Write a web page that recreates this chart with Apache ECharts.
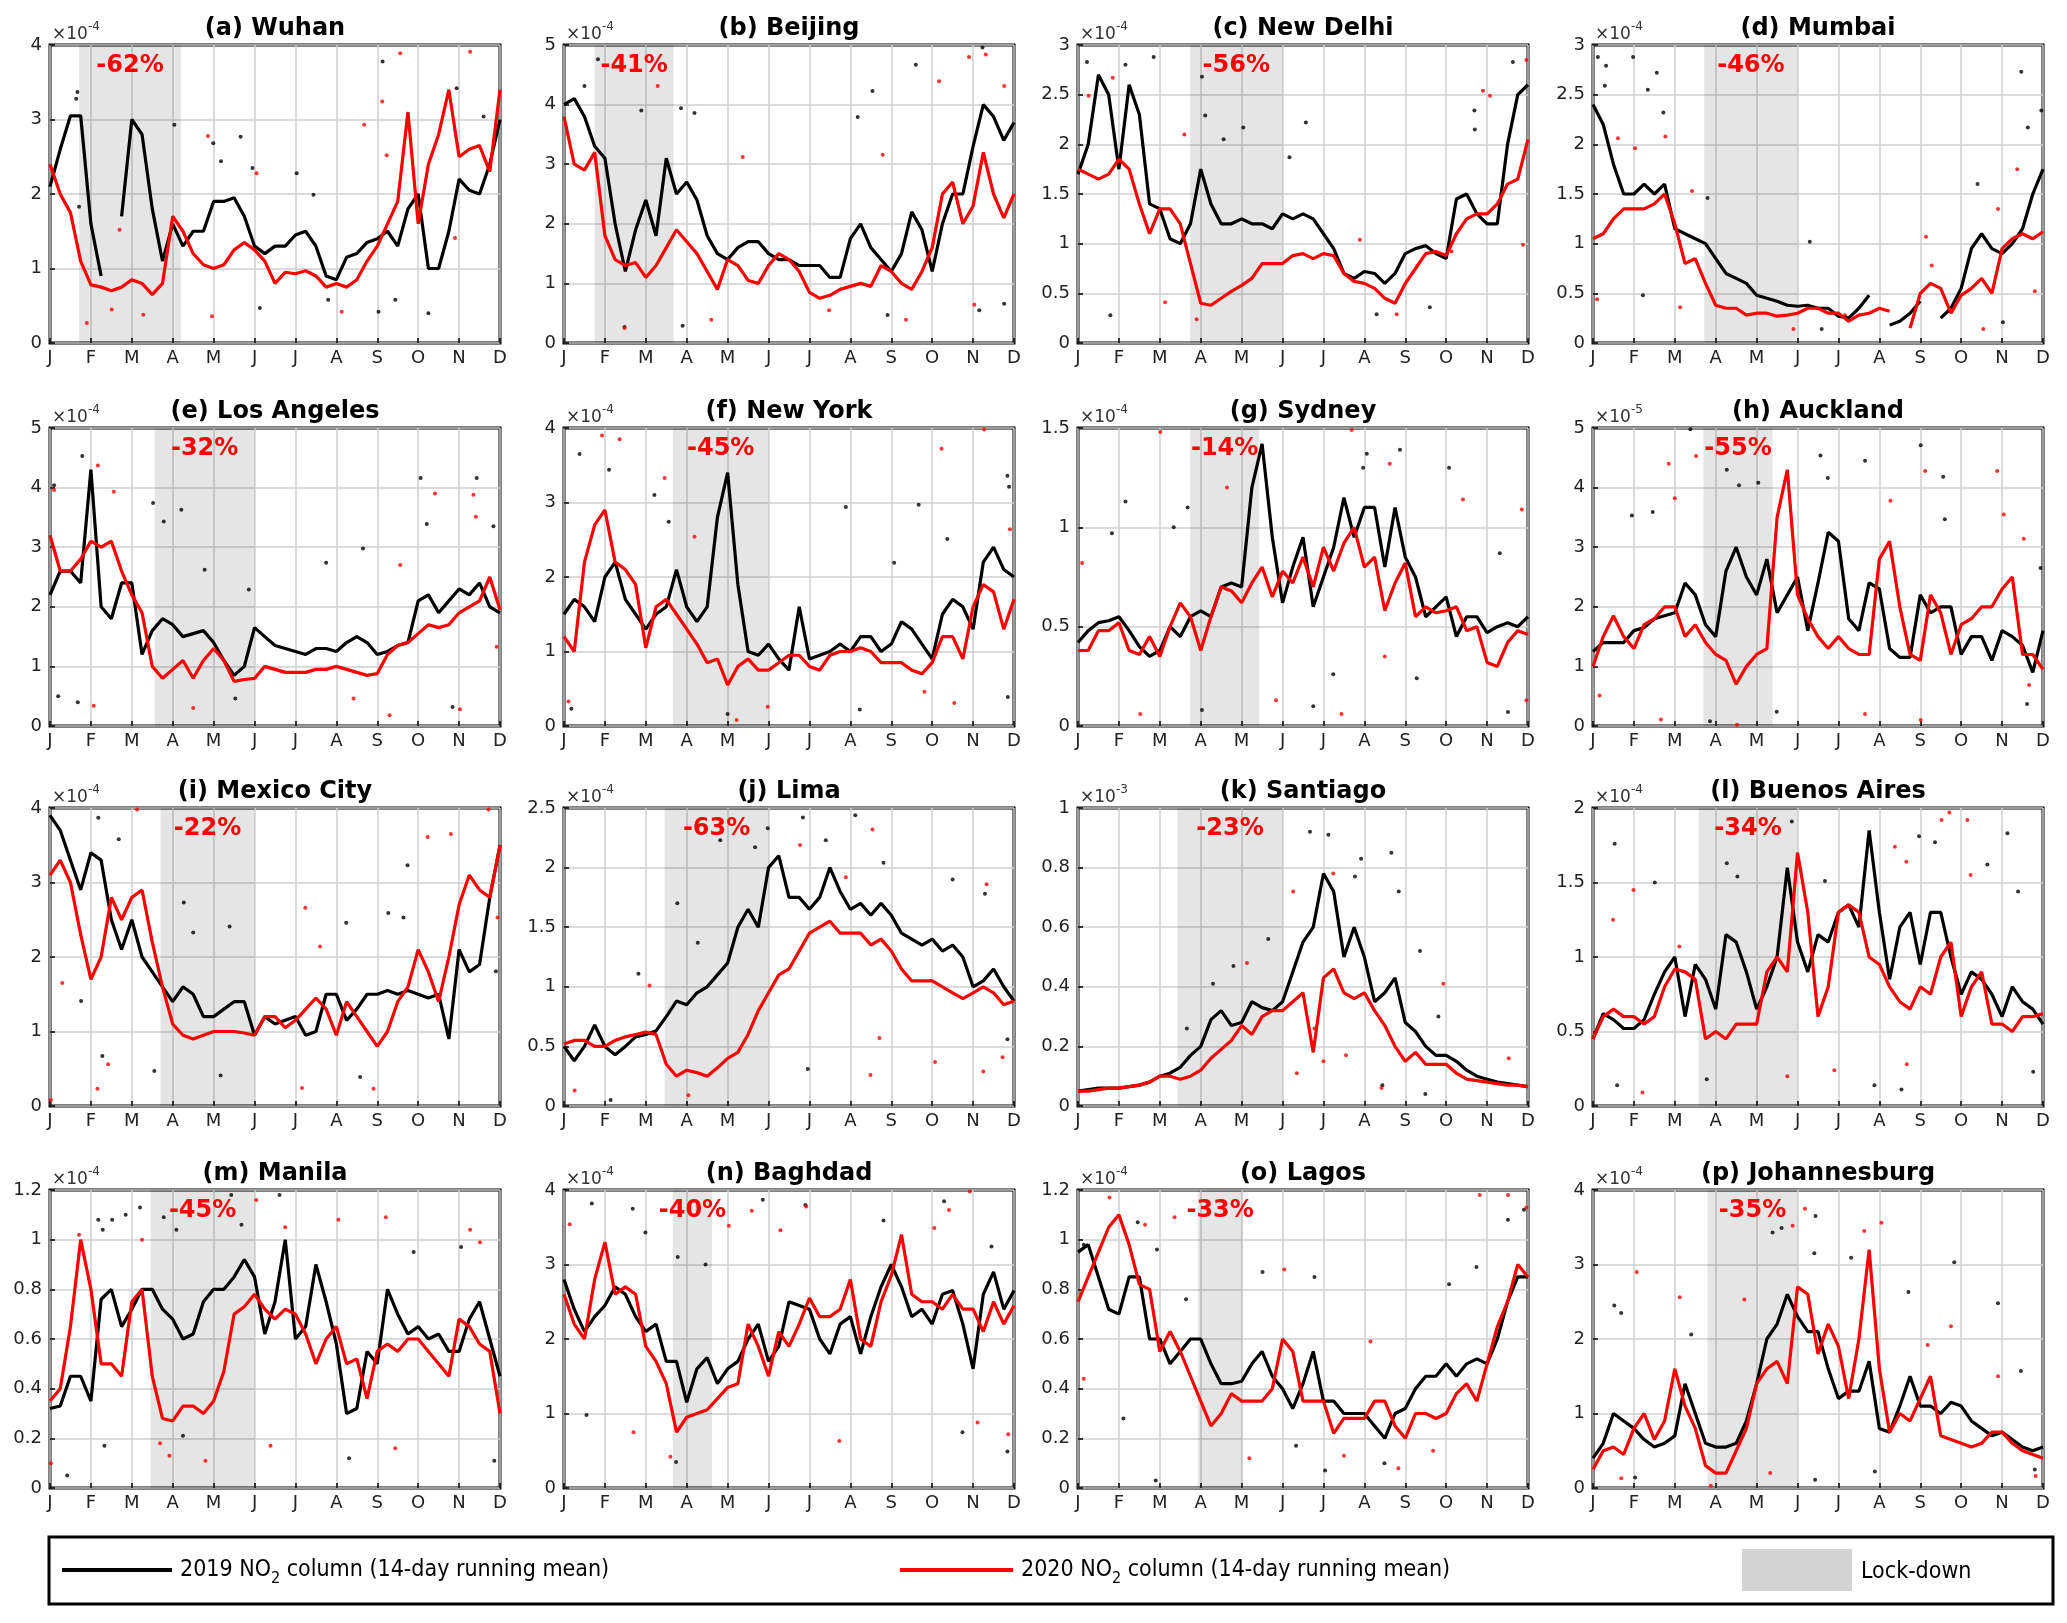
<!DOCTYPE html>
<html lang="en">
<head>
<meta charset="utf-8">
<title>NO2 column 2019 vs 2020</title>
<script src="https://cdn.jsdelivr.net/npm/echarts@6/dist/echarts.min.js"></script>
<style>
  html, body { margin: 0; padding: 0; background: #fff; }
  #main { width: 2067px; height: 1623px; }
</style>
</head>
<body>
<div id="main"></div>
<script>
// x runs in months: 0 = 1 Jan ... 11 = 1 Dec, running means sampled every quarter month
const STEP = 0.25;
const monthLetters = ['J','F','M','A','M','J','J','A','S','O','N','D'];

const titles = ['(a) Wuhan','(b) Beijing','(c) New Delhi','(d) Mumbai','(e) Los Angeles','(f) New York','(g) Sydney','(h) Auckland',
  '(i) Mexico City','(j) Lima','(k) Santiago','(l) Buenos Aires','(m) Manila','(n) Baghdad','(o) Lagos','(p) Johannesburg'];
const yMax  = [4, 5, 3, 3, 5, 4, 1.5, 5, 4, 2.5, 1, 2, 1.2, 4, 1.2, 4];
const yStep = [1, 1, 0.5, 0.5, 1, 1, 0.5, 1, 1, 0.5, 0.2, 0.5, 0.2, 1, 0.2, 1];
const expo  = ['-4','-4','-4','-4','-4','-4','-4','-5','-4','-4','-3','-4','-4','-4','-4','-4'];
const lockStart = [0.71, 0.75, 2.74, 2.72, 2.56, 2.66, 2.74, 2.7, 2.7, 2.46, 2.43, 2.58, 2.46, 2.66, 2.93, 2.8];
const lockEnd   = [3.2, 2.68, 5.0, 5.0, 5.0, 5.0, 4.43, 4.39, 5.0, 5.0, 5.0, 5.0, 5.0, 3.62, 4.02, 5.0];
const pctLabels = ['-62%','-41%','-56%','-46%','-32%','-45%','-14%','-55%','-22%','-63%','-23%','-34%','-45%','-40%','-33%','-35%'];

// 14-day running means, 2019 (black) and 2020 (red); null = gap
const wuhan19 = [2.1,2.6,3.05,3.05,1.6,0.9,null,1.7,3.0,2.8,1.8,1.1,1.6,1.3,1.5,1.5,1.9,1.9,1.95,1.7,1.3,1.2,1.3,1.3,1.45,1.5,1.3,0.9,0.85,1.15,1.2,1.35,1.4,1.5,1.3,1.8,2.0,1.0,1.0,1.5,2.2,2.05,2.0,2.4,3.0];
const wuhan20 = [2.4,2.0,1.75,1.1,0.78,0.75,0.7,0.75,0.85,0.8,0.65,0.8,1.7,1.5,1.2,1.05,1.0,1.05,1.25,1.35,1.25,1.1,0.8,0.95,0.93,0.97,0.9,0.75,0.8,0.75,0.85,1.1,1.3,1.6,1.9,3.1,1.6,2.4,2.8,3.4,2.5,2.6,2.65,2.3,3.4];
const beijing19 = [4.0,4.1,3.8,3.3,3.1,2.0,1.2,1.9,2.4,1.8,3.1,2.5,2.7,2.4,1.8,1.5,1.4,1.6,1.7,1.7,1.5,1.4,1.4,1.3,1.3,1.3,1.1,1.1,1.75,2.0,1.6,1.4,1.2,1.5,2.2,1.9,1.2,2.0,2.5,2.5,3.3,4.0,3.8,3.4,3.7];
const beijing20 = [3.8,3.0,2.9,3.2,1.8,1.4,1.3,1.35,1.1,1.3,1.6,1.9,1.7,1.5,1.2,0.9,1.4,1.3,1.05,1.0,1.3,1.5,1.4,1.2,0.85,0.75,0.8,0.9,0.95,1.0,0.95,1.3,1.2,1.0,0.9,1.2,1.6,2.5,2.7,2.0,2.3,3.2,2.5,2.1,2.5];
const delhi19 = [1.7,2.0,2.7,2.5,1.75,2.6,2.3,1.4,1.35,1.05,1.0,1.2,1.75,1.4,1.2,1.2,1.25,1.2,1.2,1.15,1.3,1.25,1.3,1.25,1.1,0.95,0.7,0.65,0.72,0.7,0.6,0.7,0.9,0.95,0.98,0.9,0.85,1.45,1.5,1.3,1.2,1.2,2.0,2.5,2.6];
const delhi20 = [1.75,1.7,1.65,1.7,1.85,1.75,1.4,1.1,1.35,1.35,1.2,0.8,0.4,0.38,0.45,0.52,0.58,0.65,0.8,0.8,0.8,0.88,0.9,0.85,0.9,0.88,0.7,0.62,0.6,0.55,0.45,0.4,0.6,0.75,0.9,0.92,0.88,1.1,1.25,1.3,1.3,1.4,1.6,1.65,2.05];
const mumbai19 = [2.4,2.2,1.8,1.5,1.5,1.6,1.5,1.6,1.15,1.1,1.05,1.0,0.85,0.7,0.65,0.6,0.48,0.45,0.42,0.38,0.37,0.38,0.35,0.35,0.27,0.25,0.35,0.48,null,0.18,0.22,0.3,0.42,null,0.25,0.35,0.55,0.95,1.1,0.95,0.9,1.0,1.15,1.5,1.75];
const mumbai20 = [1.05,1.1,1.25,1.35,1.35,1.35,1.4,1.5,1.2,0.8,0.85,0.6,0.38,0.35,0.35,0.28,0.3,0.3,0.27,0.28,0.3,0.35,0.35,0.3,0.3,0.22,0.28,0.3,0.35,0.32,null,0.15,0.5,0.6,0.55,0.3,0.48,0.55,0.65,0.5,0.95,1.05,1.1,1.05,1.12];
const la19 = [2.2,2.6,2.6,2.4,4.3,2.0,1.8,2.4,2.4,1.2,1.6,1.8,1.7,1.5,1.55,1.6,1.4,1.1,0.85,1.0,1.65,1.5,1.35,1.3,1.25,1.2,1.3,1.3,1.25,1.4,1.5,1.4,1.2,1.25,1.35,1.4,2.1,2.2,1.9,2.1,2.3,2.2,2.4,2.0,1.9];
const la20 = [3.2,2.6,2.6,2.8,3.1,3.0,3.1,2.6,2.2,1.9,1.0,0.8,0.95,1.1,0.8,1.1,1.3,1.1,0.75,0.78,0.8,1.0,0.95,0.9,0.9,0.9,0.95,0.95,1.0,0.95,0.9,0.85,0.88,1.2,1.35,1.4,1.55,1.7,1.65,1.7,1.9,2.0,2.1,2.5,1.95];
const ny19 = [1.5,1.7,1.6,1.4,2.0,2.2,1.7,1.5,1.3,1.5,1.6,2.1,1.6,1.4,1.6,2.8,3.4,1.9,1.0,0.95,1.1,0.9,0.75,1.6,0.9,0.95,1.0,1.1,1.0,1.2,1.2,1.0,1.1,1.4,1.3,1.1,0.9,1.5,1.7,1.6,1.3,2.2,2.4,2.1,2.0];
const ny20 = [1.2,1.0,2.2,2.7,2.9,2.2,2.1,1.9,1.05,1.6,1.7,1.5,1.3,1.1,0.85,0.9,0.55,0.8,0.9,0.75,0.75,0.85,0.95,0.95,0.8,0.75,0.95,1.0,1.0,1.05,1.0,0.85,0.85,0.85,0.75,0.7,0.85,1.2,1.2,0.9,1.6,1.9,1.8,1.3,1.7];
const sydney19 = [0.42,0.48,0.52,0.53,0.55,0.48,0.40,0.35,0.38,0.5,0.45,0.55,0.58,0.55,0.7,0.72,0.7,1.2,1.42,0.95,0.62,0.8,0.95,0.6,0.75,0.9,1.15,0.95,1.1,1.1,0.8,1.1,0.85,0.75,0.55,0.6,0.65,0.45,0.55,0.55,0.47,0.5,0.52,0.5,0.55];
const sydney20 = [0.38,0.38,0.48,0.48,0.52,0.38,0.36,0.45,0.35,0.5,0.62,0.55,0.38,0.55,0.7,0.68,0.62,0.72,0.8,0.65,0.78,0.72,0.85,0.7,0.9,0.78,0.92,1.0,0.8,0.85,0.58,0.72,0.82,0.55,0.6,0.57,0.58,0.6,0.48,0.5,0.32,0.3,0.42,0.48,0.46];
const auckland19 = [1.25,1.4,1.4,1.4,1.6,1.65,1.8,1.85,1.9,2.4,2.2,1.7,1.5,2.6,3.0,2.5,2.2,2.8,1.9,2.2,2.5,1.6,2.4,3.25,3.1,1.8,1.6,2.4,2.3,1.3,1.15,1.15,2.2,1.9,2.0,2.0,1.2,1.5,1.5,1.1,1.6,1.5,1.35,0.9,1.6];
const auckland20 = [1.0,1.5,1.85,1.5,1.3,1.7,1.8,2.0,2.0,1.5,1.7,1.4,1.2,1.1,0.7,1.0,1.2,1.3,3.5,4.3,2.2,1.8,1.5,1.3,1.5,1.3,1.2,1.2,2.8,3.1,2.0,1.2,1.1,2.2,1.9,1.2,1.7,1.8,2.0,2.0,2.3,2.5,1.2,1.2,0.95];
const mexico19 = [3.9,3.7,3.3,2.9,3.4,3.3,2.5,2.1,2.5,2.0,1.8,1.6,1.4,1.6,1.5,1.2,1.2,1.3,1.4,1.4,0.95,1.2,1.1,1.15,1.2,0.95,1.0,1.5,1.5,1.15,1.3,1.5,1.5,1.55,1.5,1.55,1.5,1.45,1.5,0.9,2.1,1.8,1.9,2.8,3.5];
const mexico20 = [3.1,3.3,3.0,2.3,1.7,2.0,2.8,2.5,2.8,2.9,2.2,1.6,1.1,0.95,0.9,0.95,1.0,1.0,1.0,0.98,0.95,1.2,1.2,1.05,1.15,1.3,1.45,1.3,0.95,1.4,1.2,1.0,0.8,1.0,1.4,1.6,2.1,1.8,1.4,2.0,2.7,3.1,2.9,2.8,3.5];
const lima19 = [0.5,0.38,0.5,0.68,0.5,0.43,0.5,0.58,0.6,0.63,0.75,0.88,0.85,0.95,1.0,1.1,1.2,1.5,1.65,1.5,2.0,2.1,1.75,1.75,1.65,1.75,2.0,1.8,1.65,1.7,1.6,1.7,1.6,1.45,1.4,1.35,1.4,1.3,1.35,1.25,1.0,1.05,1.15,1.0,0.88];
const lima20 = [0.52,0.55,0.55,0.5,0.5,0.55,0.58,0.6,0.62,0.6,0.35,0.25,0.3,0.28,0.25,0.32,0.4,0.45,0.6,0.8,0.95,1.1,1.15,1.3,1.45,1.5,1.55,1.45,1.45,1.45,1.35,1.4,1.3,1.15,1.05,1.05,1.05,1.0,0.95,0.9,0.95,1.0,0.95,0.85,0.88];
const santiago19 = [0.05,0.055,0.06,0.06,0.06,0.065,0.07,0.08,0.1,0.11,0.13,0.17,0.2,0.29,0.32,0.27,0.28,0.35,0.33,0.32,0.35,0.45,0.55,0.6,0.78,0.72,0.5,0.6,0.5,0.35,0.38,0.43,0.28,0.25,0.2,0.17,0.17,0.15,0.12,0.1,0.09,0.08,0.075,0.07,0.065];
const santiago20 = [0.05,0.05,0.055,0.06,0.06,0.065,0.07,0.08,0.1,0.1,0.09,0.1,0.12,0.16,0.19,0.22,0.27,0.24,0.3,0.32,0.32,0.35,0.38,0.18,0.43,0.46,0.38,0.36,0.38,0.32,0.27,0.2,0.15,0.18,0.14,0.14,0.14,0.11,0.09,0.085,0.08,0.075,0.07,0.07,0.065];
const buenos19 = [0.45,0.62,0.58,0.52,0.52,0.58,0.75,0.9,1.0,0.6,0.95,0.85,0.65,1.15,1.1,0.9,0.65,0.8,1.0,1.6,1.1,0.9,1.15,1.1,1.3,1.35,1.2,1.85,1.3,0.85,1.2,1.3,0.95,1.3,1.3,1.0,0.75,0.9,0.85,0.75,0.6,0.8,0.7,0.65,0.55];
const buenos20 = [0.45,0.6,0.65,0.6,0.6,0.55,0.6,0.8,0.92,0.9,0.85,0.45,0.5,0.45,0.55,0.55,0.55,0.9,1.0,0.9,1.7,1.3,0.6,0.8,1.3,1.35,1.3,1.0,0.95,0.8,0.7,0.65,0.8,0.75,1.0,1.1,0.6,0.8,0.9,0.55,0.55,0.5,0.6,0.6,0.62];
const manila19 = [0.32,0.33,0.45,0.45,0.35,0.76,0.8,0.65,0.72,0.8,0.8,0.72,0.68,0.6,0.62,0.75,0.8,0.8,0.85,0.92,0.85,0.62,0.75,1.0,0.6,0.65,0.9,0.75,0.58,0.3,0.32,0.55,0.5,0.8,0.7,0.62,0.65,0.6,0.62,0.55,0.55,0.68,0.75,0.6,0.45];
const manila20 = [0.35,0.4,0.65,1.0,0.8,0.5,0.5,0.45,0.75,0.8,0.45,0.28,0.27,0.33,0.33,0.3,0.35,0.47,0.7,0.73,0.78,0.72,0.68,0.72,0.7,0.62,0.5,0.6,0.65,0.5,0.52,0.36,0.55,0.58,0.55,0.6,0.6,0.55,0.5,0.45,0.68,0.65,0.58,0.55,0.3];
const baghdad19 = [2.8,2.4,2.1,2.3,2.45,2.7,2.6,2.3,2.1,2.2,1.7,1.7,1.15,1.6,1.75,1.4,1.6,1.7,2.0,2.2,1.7,1.9,2.5,2.45,2.4,2.0,1.8,2.2,2.3,1.8,2.3,2.7,3.0,2.7,2.3,2.4,2.2,2.6,2.65,2.2,1.6,2.6,2.9,2.4,2.65];
const baghdad20 = [2.6,2.2,2.0,2.8,3.3,2.6,2.7,2.6,1.9,1.7,1.4,0.75,0.95,1.0,1.05,1.2,1.35,1.4,2.2,1.9,1.5,2.1,1.9,2.2,2.55,2.3,2.3,2.4,2.8,2.0,1.9,2.5,2.85,3.4,2.6,2.5,2.5,2.4,2.6,2.4,2.4,2.1,2.5,2.2,2.45];
const lagos19 = [0.95,0.98,0.85,0.72,0.7,0.85,0.85,0.6,0.6,0.5,0.55,0.6,0.6,0.5,0.42,0.42,0.43,0.5,0.55,0.45,0.4,0.32,0.42,0.55,0.35,0.35,0.3,0.3,0.3,0.25,0.2,0.3,0.32,0.4,0.45,0.45,0.5,0.45,0.5,0.52,0.5,0.6,0.75,0.85,0.85];
const lagos20 = [0.75,0.85,0.95,1.05,1.1,0.98,0.82,0.8,0.55,0.63,0.55,0.45,0.35,0.25,0.3,0.38,0.35,0.35,0.35,0.4,0.6,0.55,0.35,0.35,0.35,0.22,0.28,0.28,0.28,0.35,0.35,0.25,0.2,0.3,0.3,0.28,0.3,0.38,0.42,0.35,0.5,0.65,0.75,0.9,0.85];
const joburg19 = [0.4,0.6,1.0,0.9,0.8,0.65,0.55,0.6,0.7,1.4,1.0,0.6,0.55,0.55,0.6,0.9,1.4,2.0,2.2,2.6,2.3,2.1,2.1,1.6,1.2,1.3,1.3,1.7,0.8,0.75,1.1,1.5,1.1,1.1,1.0,1.15,1.1,0.9,0.8,0.7,0.75,0.65,0.55,0.5,0.55];
const joburg20 = [0.25,0.5,0.55,0.45,0.8,1.0,0.65,0.9,1.6,1.1,0.8,0.3,0.2,0.2,0.5,0.8,1.4,1.6,1.7,1.4,2.7,2.6,1.8,2.2,1.9,1.2,2.0,3.2,1.6,0.75,1.0,0.9,1.2,1.5,0.7,0.65,0.6,0.55,0.6,0.75,0.75,0.6,0.5,0.45,0.4];

// a selection of daily values [month, value]
const wuhanDots19 = [[0.67,3.37],[0.64,3.28],[0.71,1.83],[3.04,2.93],[3.99,2.68],[4.18,2.44],[4.66,2.77],[4.95,2.35],[6.03,2.28],[6.44,1.99],[8.13,3.78],[8.03,0.42],[9.94,3.42],[9.25,0.4],[10.6,3.04],[5.13,0.47],[8.44,0.58],[6.8,0.58]];
const wuhanDots20 = [[0.9,0.27],[1.7,1.52],[3.96,0.36],[3.86,2.78],[5.05,2.28],[7.68,2.93],[8.12,3.24],[8.56,3.89],[10.27,3.91],[9.9,1.41],[7.13,0.42],[2.28,0.38],[1.51,0.45],[8.23,2.52]];
const beijingDots19 = [[0.5,4.31],[0.83,4.76],[1.89,3.9],[2.86,3.94],[3.19,3.86],[7.18,3.79],[7.54,4.23],[8.6,4.67],[10.23,4.96],[1.48,0.27],[2.9,0.29],[7.91,0.47],[10.15,0.55],[10.76,0.66]];
const beijingDots20 = [[2.29,4.31],[1.48,0.25],[3.6,0.39],[9.9,4.8],[10.31,4.84],[9.17,4.39],[10.76,4.31],[4.37,3.12],[6.48,0.55],[7.79,3.16],[8.36,0.39],[10.03,0.64]];
const delhiDots19 = [[0.22,2.83],[1.16,2.8],[1.85,2.88],[0.79,0.28],[3.03,2.68],[3.11,2.29],[4.04,2.17],[3.56,2.05],[5.57,2.22],[5.17,1.87],[9.69,2.34],[10.63,2.83],[9.7,2.15],[8.6,0.36],[7.3,0.29]];
const delhiDots20 = [[0.26,2.49],[0.85,2.67],[2.6,2.1],[9.9,2.54],[10.07,2.49],[10.96,2.85],[2.9,0.24],[7.79,0.29],[2.13,0.41],[10.88,0.99],[9.13,0.92],[6.89,1.04]];
const mumbaiDots19 = [[0.12,2.88],[0.32,2.79],[0.29,2.59],[0.98,2.88],[1.34,2.55],[1.56,2.72],[1.72,2.32],[2.8,1.46],[5.3,1.02],[10.47,2.73],[10.63,2.17],[10.96,2.34],[9.4,1.6],[1.22,0.48],[10.02,0.21],[5.59,0.14]];
const mumbaiDots20 = [[1.77,2.08],[0.61,2.06],[1.03,1.96],[2.42,1.53],[0.1,0.44],[2.13,0.36],[4.9,0.14],[8.14,1.07],[8.28,0.78],[9.9,1.35],[10.37,1.75],[9.54,0.14],[10.8,0.52],[6.16,0.28]];
const laDots19 = [[0.79,4.53],[0.1,4.04],[2.52,3.74],[2.78,3.43],[3.21,3.63],[3.78,2.62],[4.86,2.29],[7.65,2.98],[6.75,2.74],[9.06,4.16],[9.21,3.39],[10.43,4.16],[10.84,3.35],[0.2,0.5],[0.68,0.4],[9.84,0.32],[4.53,0.46]];
const laDots20 = [[0.1,3.96],[1.56,3.93],[1.17,4.37],[9.41,3.9],[10.35,3.88],[10.41,3.51],[8.56,2.7],[10.02,0.28],[8.3,0.18],[3.5,0.3],[1.07,0.34],[10.92,1.33],[7.42,0.46]];
const nyDots19 = [[0.38,3.65],[1.1,3.44],[2.21,3.1],[2.56,2.74],[6.89,2.94],[8.07,2.19],[8.67,2.97],[9.37,2.51],[10.84,3.36],[10.88,3.21],[0.18,0.23],[4.0,0.16],[7.23,0.22],[10.85,0.39]];
const nyDots20 = [[0.93,3.9],[1.36,3.85],[2.46,3.33],[9.23,3.72],[10.27,3.98],[10.9,2.64],[0.11,0.33],[4.22,0.08],[9.54,0.31],[4.98,0.26],[8.81,0.46],[3.19,2.54]];
const sydneyDots19 = [[1.16,1.13],[0.83,0.97],[2.68,1.1],[2.34,1.0],[6.97,1.3],[7.06,1.37],[7.87,1.39],[9.07,1.3],[10.31,0.87],[5.75,0.1],[10.51,0.07],[3.03,0.08],[6.24,0.26],[8.28,0.24]];
const sydneyDots20 = [[0.1,0.82],[2.01,1.48],[3.64,1.2],[6.69,1.49],[7.62,1.32],[10.85,1.09],[6.44,0.06],[1.52,0.06],[4.84,0.13],[10.96,0.13],[9.41,1.14],[7.5,0.35]];
const aucklandDots19 = [[2.38,4.98],[3.27,4.3],[3.57,4.04],[4.04,4.08],[5.56,4.54],[5.74,4.16],[6.65,4.45],[8.01,4.71],[8.56,4.18],[8.6,3.47],[1.46,3.59],[0.95,3.53],[2.86,0.08],[4.49,0.24],[10.61,0.37],[10.94,2.65]];
const aucklandDots20 = [[1.85,4.4],[2.52,4.53],[2.0,3.82],[7.27,3.78],[8.12,4.28],[9.88,4.28],[10.04,3.55],[10.53,3.14],[3.52,0.02],[1.66,0.11],[6.65,0.2],[8.01,0.1],[10.66,0.69],[0.16,0.51]];
const mexicoDots19 = [[1.18,3.87],[1.68,3.58],[3.27,2.73],[3.5,2.33],[4.39,2.41],[7.24,2.46],[8.27,2.59],[8.64,2.53],[8.74,3.23],[10.9,1.81],[0.76,1.41],[2.55,0.47],[4.17,0.41],[7.58,0.39],[1.28,0.67]];
const mexicoDots20 = [[2.13,3.98],[9.23,3.61],[10.72,3.98],[10.94,2.53],[0.02,0.08],[1.16,0.23],[1.42,0.56],[6.24,2.66],[6.6,2.14],[7.91,0.23],[6.16,0.24],[9.8,3.65],[0.3,1.65]];
const limaDots19 = [[1.82,1.11],[2.77,1.7],[3.27,1.37],[3.82,2.23],[4.67,2.17],[4.98,2.33],[5.84,2.42],[6.4,2.23],[7.12,2.44],[7.81,2.04],[9.5,1.9],[10.29,1.78],[5.96,0.31],[1.14,0.05],[10.84,0.56]];
const limaDots20 = [[2.09,1.01],[5.77,2.19],[7.54,2.32],[6.89,1.92],[10.33,1.86],[0.26,0.13],[3.04,0.09],[7.49,0.26],[7.71,0.57],[9.07,0.37],[10.25,0.29],[10.72,0.41]];
const santiagoDots19 = [[5.67,0.92],[6.12,0.91],[7.66,0.85],[7.84,0.72],[6.92,0.83],[6.77,0.77],[8.36,0.52],[4.65,0.56],[3.8,0.47],[3.3,0.41],[2.66,0.26],[8.81,0.3],[8.49,0.04],[7.44,0.07]];
const santiagoDots20 = [[5.26,0.72],[6.24,0.78],[4.13,0.48],[8.93,0.41],[5.78,0.26],[6.0,0.15],[5.35,0.11],[7.42,0.06],[10.53,0.16],[6.55,0.17]];
const buenosDots19 = [[0.53,1.76],[1.51,1.5],[3.27,1.63],[3.53,1.54],[4.86,1.91],[5.67,1.51],[7.97,1.81],[8.36,1.77],[9.64,1.62],[10.13,1.83],[10.39,1.44],[0.59,0.14],[2.78,0.18],[6.88,0.14],[7.54,0.11],[10.76,0.23]];
const buenosDots20 = [[0.99,1.45],[0.49,1.25],[2.11,1.07],[7.38,1.74],[7.66,1.64],[8.52,1.92],[8.71,1.97],[9.15,1.92],[9.23,1.55],[1.21,0.09],[5.9,0.24],[7.67,0.28],[4.75,0.2]];
const manilaDots19 = [[1.18,1.08],[1.29,1.04],[1.52,1.08],[1.85,1.1],[2.2,1.13],[2.78,1.09],[3.09,1.04],[4.43,1.18],[4.68,1.06],[5.61,1.18],[8.89,0.95],[10.05,0.97],[0.42,0.05],[1.33,0.17],[7.31,0.12],[10.86,0.11],[3.25,0.21]];
const manilaDots20 = [[0.71,1.02],[2.25,1.0],[5.04,1.16],[5.75,1.05],[7.05,1.08],[8.21,1.09],[10.27,1.04],[10.51,0.99],[2.92,0.13],[3.8,0.11],[5.39,0.17],[8.44,0.16],[0.02,0.1],[2.69,0.18]];
const baghdadDots19 = [[0.68,3.82],[1.68,3.75],[1.99,3.43],[2.78,3.1],[3.46,3.0],[4.86,3.87],[5.9,3.8],[7.81,3.59],[9.29,3.85],[10.45,3.24],[0.55,0.98],[2.74,0.35],[10.84,0.49],[9.74,0.75]];
const baghdadDots20 = [[0.14,3.54],[4.03,3.52],[4.59,3.72],[5.29,3.46],[5.92,3.78],[9.05,3.49],[9.41,3.73],[9.92,3.98],[1.7,0.75],[6.73,0.63],[10.86,0.72],[10.11,0.88],[2.6,0.42]];
const lagosDots19 = [[0.14,0.98],[1.46,1.07],[1.93,0.96],[2.64,0.76],[4.51,0.87],[5.78,0.85],[9.07,0.82],[9.74,0.89],[10.51,1.08],[10.9,1.12],[1.9,0.03],[1.11,0.28],[6.04,0.07],[7.49,0.1],[5.33,0.17]];
const lagosDots20 = [[0.77,1.17],[2.36,1.09],[1.64,1.06],[5.04,0.88],[7.15,0.59],[9.82,1.18],[10.51,1.18],[10.96,1.13],[4.19,0.12],[6.5,0.13],[7.83,0.08],[0.14,0.44],[8.68,0.15]];
const joburgDots19 = [[0.52,2.45],[0.69,2.35],[2.4,2.06],[4.39,3.43],[4.61,3.49],[5.44,3.65],[5.41,3.15],[6.31,3.09],[8.83,3.03],[7.71,2.63],[9.9,2.48],[10.46,1.57],[1.03,0.14],[5.43,0.11],[6.89,0.22],[10.8,0.25]];
const joburgDots20 = [[1.07,2.9],[2.12,2.56],[3.7,2.53],[5.18,3.75],[4.88,3.52],[6.63,3.45],[7.05,3.56],[8.18,1.92],[8.75,2.17],[9.9,1.5],[2.88,0.03],[0.69,0.13],[4.33,0.2],[10.82,0.16]];

const lines19 = [wuhan19, beijing19, delhi19, mumbai19, la19, ny19, sydney19, auckland19, mexico19, lima19, santiago19, buenos19, manila19, baghdad19, lagos19, joburg19];
const lines20 = [wuhan20, beijing20, delhi20, mumbai20, la20, ny20, sydney20, auckland20, mexico20, lima20, santiago20, buenos20, manila20, baghdad20, lagos20, joburg20];
const dots19 = [wuhanDots19, beijingDots19, delhiDots19, mumbaiDots19, laDots19, nyDots19, sydneyDots19, aucklandDots19, mexicoDots19, limaDots19, santiagoDots19, buenosDots19, manilaDots19, baghdadDots19, lagosDots19, joburgDots19];
const dots20 = [wuhanDots20, beijingDots20, delhiDots20, mumbaiDots20, laDots20, nyDots20, sydneyDots20, aucklandDots20, mexicoDots20, limaDots20, santiagoDots20, buenosDots20, manilaDots20, baghdadDots20, lagosDots20, joburgDots20];

// panel layout (pixels)
const colLeft = [50, 564, 1078, 1593];
const rowTop = [45, 428, 808, 1190];
const W = 450, H = 298;
const FONT = 'DejaVu Sans';

const ctx = document.createElement('canvas').getContext('2d');
function textWidth(t, font) { ctx.font = font; return ctx.measureText(t).width; }
function toLine(arr) { return arr.map((v, i) => [i * STEP, v == null ? '-' : v]); }

function txt(x, y, text, font, color, align) {
  return { type: 'text', x: x, y: y, silent: true, z: 100,
    style: { text: text, font: font, fill: color || '#000',
      align: align || 'left', textAlign: align || 'left', verticalAlign: 'middle', textVerticalAlign: 'middle' } };
}

const grids = [], xAxes = [], yAxes = [], series = [], graphics = [];
for (let k = 0; k < 16; k++) {
  const left = colLeft[k % 4], top = rowTop[Math.floor(k / 4)];
  grids.push({ left: left, top: top, width: W, height: H, show: true, borderColor: '#000', borderWidth: 3,
    backgroundColor: 'transparent', outerBoundsMode: 'none', containLabel: false });
  xAxes.push({ gridIndex: k, type: 'value', min: 0, max: 11, interval: 1,
    axisLine: { show: false },
    axisTick: { show: true, inside: true, length: 5, lineStyle: { color: '#000', width: 1.5 } },
    axisLabel: { formatter: v => monthLetters[Math.round(v)], fontSize: 18, color: '#222', margin: 6,
      fontFamily: FONT, showMinLabel: true, showMaxLabel: true },
    splitLine: { show: true, lineStyle: { color: '#cfcfcf', width: 1.5 } } });
  yAxes.push({ gridIndex: k, type: 'value', min: 0, max: yMax[k], interval: yStep[k],
    axisLine: { show: false },
    axisTick: { show: true, inside: true, length: 5, lineStyle: { color: '#000', width: 1.5 } },
    axisLabel: { fontSize: 18, color: '#222', margin: 8, fontFamily: FONT, showMinLabel: true, showMaxLabel: true },
    splitLine: { show: true, lineStyle: { color: '#cfcfcf', width: 1.5 } } });

  // lock-down shading with the percentage change
  series.push({ type: 'scatter', xAxisIndex: k, yAxisIndex: k, data: [], z: 1, silent: true,
    markArea: { silent: true, itemStyle: { color: 'rgba(0,0,0,0.1)' },
      label: { show: true, position: 'insideTop', distance: 9, formatter: pctLabels[k], color: '#ff0000',
        fontSize: 24, fontWeight: 'bold', fontFamily: FONT },
      data: [[{ xAxis: lockStart[k] }, { xAxis: lockEnd[k] }]] } });
  series.push({ type: 'scatter', xAxisIndex: k, yAxisIndex: k, data: dots19[k], symbolSize: 4,
    itemStyle: { color: '#000' }, silent: true, z: 2 });
  series.push({ type: 'scatter', xAxisIndex: k, yAxisIndex: k, data: dots20[k], symbolSize: 4,
    itemStyle: { color: '#ff0000' }, silent: true, z: 2 });
  series.push({ type: 'line', xAxisIndex: k, yAxisIndex: k, data: toLine(lines19[k]), showSymbol: false,
    connectNulls: false, lineStyle: { color: '#000', width: 3.2 }, itemStyle: { color: '#000' }, silent: true, z: 3 });
  series.push({ type: 'line', xAxisIndex: k, yAxisIndex: k, data: toLine(lines20[k]), showSymbol: false,
    connectNulls: false, lineStyle: { color: '#ff0000', width: 3.2 }, itemStyle: { color: '#ff0000' }, silent: true, z: 4 });

  // panel title and exponent
  graphics.push(txt(left + W / 2, top - 16, titles[k], 'bold 24px ' + FONT, '#000', 'center'));
  const expFont = '17px ' + FONT;
  graphics.push(txt(left + 2, top - 10, '\u00d710', expFont, '#333'));
  graphics.push(txt(left + 2 + textWidth('\u00d710', expFont), top - 18, expo[k], '12px ' + FONT, '#333'));
}

// legend box at the bottom
const LEG_FONT = '23px "DejaVu Sans Condensed", "Liberation Sans Narrow", ' + FONT;
const SUB_FONT = '16px "DejaVu Sans Condensed", "Liberation Sans Narrow", ' + FONT;
const legY = 1570;
graphics.push({ type: 'rect', shape: { x: 49, y: 1537, width: 2004, height: 67 }, z: 90, silent: true,
  style: { fill: '#fff', stroke: '#000', lineWidth: 3 } });
function legendEntry(x1, x2, color, yearText) {
  graphics.push({ type: 'line', shape: { x1: x1, y1: legY, x2: x2, y2: legY }, z: 100, silent: true,
    style: { stroke: color, lineWidth: 4 } });
  let x = x2 + 8;
  const a = yearText + ' NO';
  graphics.push(txt(x, legY, a, LEG_FONT, '#000'));
  x += textWidth(a, LEG_FONT);
  graphics.push(txt(x, legY + 9, '2', SUB_FONT, '#000'));
  x += textWidth('2', SUB_FONT);
  graphics.push(txt(x, legY, ' column (14-day running mean)', LEG_FONT, '#000'));
}
legendEntry(62, 172, '#000', '2019');
legendEntry(900, 1013, '#ff0000', '2020');
graphics.push({ type: 'rect', shape: { x: 1742, y: 1549, width: 110, height: 42 }, z: 100, silent: true,
  style: { fill: '#d3d3d3' } });
graphics.push(txt(1861, 1572, 'Lock-down', LEG_FONT, '#000'));

const chart = echarts.init(document.getElementById('main'), null, { renderer: 'canvas' });
chart.setOption({
  backgroundColor: '#fff',
  animation: false,
  textStyle: { fontFamily: FONT },
  grid: grids,
  xAxis: xAxes,
  yAxis: yAxes,
  series: series,
  graphic: graphics
});
</script>
</body>
</html>
